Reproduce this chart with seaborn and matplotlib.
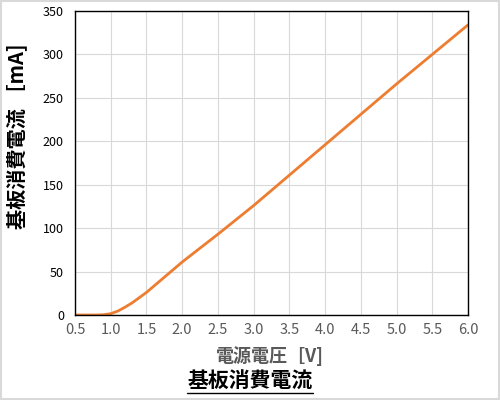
import matplotlib
matplotlib.use('Agg')
import matplotlib.pyplot as plt
import seaborn as sns
import pandas as pd

# Data
voltage = [0.5, 0.6, 0.7, 0.8, 0.9, 1.0, 1.1, 1.2, 1.3, 1.4, 1.5, 1.6, 1.7, 1.8, 1.9,
           2.0, 2.25, 2.5, 3.0, 3.5, 4.0, 4.5, 5.0, 5.5, 6.0]
current = [0, 0, 0, 0, 0.3, 1.5, 4.5, 9, 14, 20, 26, 33, 40, 47, 54,
           61, 77, 93, 126, 161, 196, 231, 266, 300, 334]
df = pd.DataFrame({'voltage': voltage, 'current': current})

sns.set_style('white')
plt.rcParams['font.family'] = ['Noto Sans CJK JP', 'DejaVu Sans']

fig = plt.figure(figsize=(5, 4), dpi=100)
ax = fig.add_axes([0.15, 0.2125, 0.786, 0.76])

sns.lineplot(data=df, x='voltage', y='current', ax=ax, color='#ED7D31', linewidth=2)

ax.set_xlim(0.5, 6.0)
ax.set_ylim(0, 350)
ax.set_xticks([0.5 + 0.5 * i for i in range(12)])
ax.set_xticklabels([f'{0.5 + 0.5 * i:.1f}' for i in range(12)])
ax.set_yticks(range(0, 351, 50))
ax.grid(True, color='#d9d9d9', linewidth=0.8)
for s in ax.spines.values():
    s.set_color('black')
    s.set_linewidth(1)
ax.tick_params(axis='x', colors='#595959', labelsize=10.5, length=0, pad=6)
ax.tick_params(axis='y', colors='black', labelsize=9, length=3, direction='in', pad=8)

ax.set_xlabel('')
ax.set_ylabel('')
fig.text(0.034, 0.66, '基板消費電流 ［mA]', rotation=90, ha='center', va='center',
         fontsize=14.5, fontweight='bold', color='black')
fig.text(0.54, 0.11, '電源電圧［V]', ha='center', va='center', fontsize=13,
         fontweight='bold', color='#595959')
fig.text(0.5, 0.0475, '基板消費電流', ha='center', va='center', fontsize=15,
         fontweight='bold', color='black')
# underline for title
fig.add_artist(plt.Line2D([0.374, 0.626], [0.0175, 0.0175], color='black', linewidth=1))

fig.patches.append(plt.Rectangle((0.002, 0.002), 0.996, 0.996, transform=fig.transFigure,
                                 fill=False, edgecolor='#d9d9d9', linewidth=1.5))

fig.savefig('out.png', dpi=100)
